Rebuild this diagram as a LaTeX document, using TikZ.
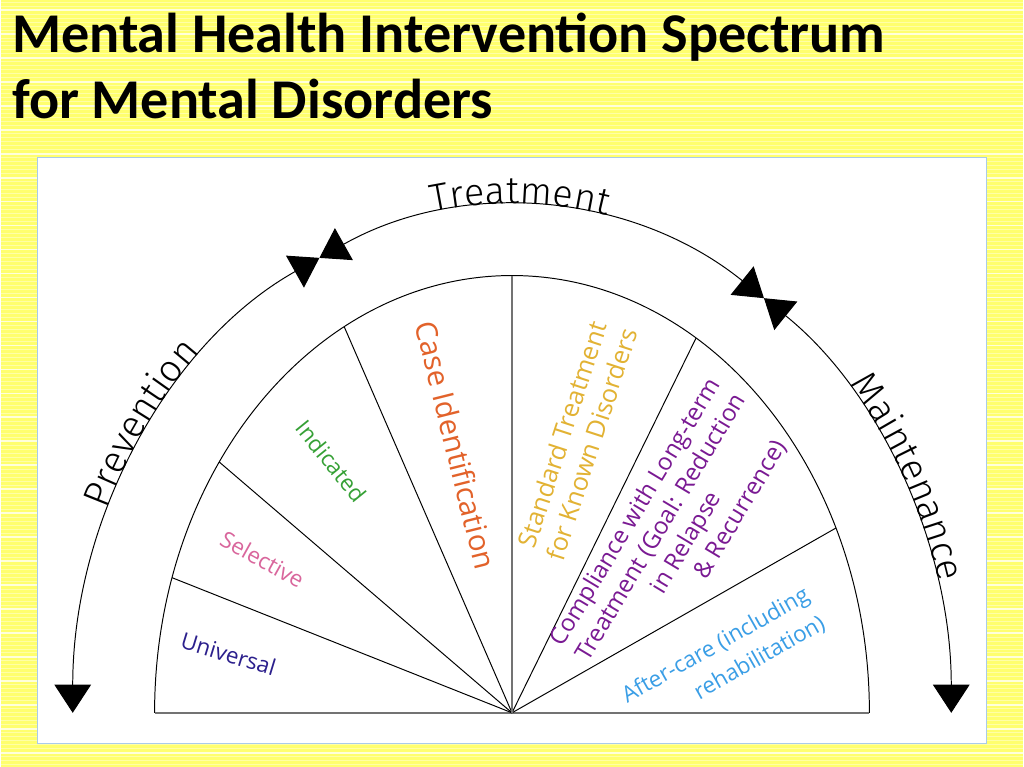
\documentclass[tikz,border=0pt]{standalone}
\usepackage{fontspec}
\setmainfont{Open Sans}
\newfontfamily\titlefont{Carlito}
\newfontfamily\arcfont{Fira Sans}[UprightFont=* Light]
\usetikzlibrary{arrows.meta,decorations.text}

\definecolor{bgyellow}{HTML}{FFFF6E}
\definecolor{bgline}{HTML}{FFFFA6}
\definecolor{panelblue}{HTML}{A9CBEA}
\definecolor{univcol}{HTML}{2B1F8C}
\definecolor{selcol}{HTML}{D9669C}
\definecolor{indcol}{HTML}{35A035}
\definecolor{casecol}{HTML}{E2622A}
\definecolor{stdcol}{HTML}{E2B233}
\definecolor{compcol}{HTML}{7A1A93}
\definecolor{aftercol}{HTML}{3A9EE6}

\tikzset{
  spoke/.style={draw=black, line width=0.7pt},
  baseline/.style={draw=gray!90!black, line width=1.4pt},
  phase/.style={draw=black, line width=0.7pt, <->},
  >={Triangle[length=20pt,width=26pt]},
  stage/.style={inner sep=0pt, align=center},
  panel/.style={fill=white, draw=panelblue, line width=1pt},
  title/.style={anchor=north west, inner sep=0pt, align=left,
    font=\titlefont\bfseries\fontsize{40}{47}\selectfont}}

\newcommand{\arcstyle}{\arcfont\fontsize{27}{27}\selectfont}

\begin{document}
\begin{tikzpicture}[x=0.025cm,y=0.025cm]
  % background
  \fill[bgyellow] (-512,-54) rectangle (512,714);
  \foreach \yy in {-52,-48,...,712}
    \draw[bgline, line width=0.6pt] (-512,\yy) -- (512,\yy);
  \foreach \yy in {-40,-16,...,712}
    \draw[white!75!bgyellow, line width=1.2pt] (-512,\yy) -- (512,\yy);
  \useasboundingbox (-512,-54) rectangle (512,714);

  \node[title] (title) at (-501,701) {Mental Health Intervention Spectrum\\for Mental Disorders};

  \draw[panel] (-475,-31) rectangle (475,556);

  % fan
  \coordinate (O) at (0,0);
  \coordinate (L) at (180:358 and 438);
  \coordinate (R) at (0:358 and 438);
  \foreach \n/\t in {1/162,2/145,3/118,4/90,5/59,6/25}
    \coordinate (s\n) at (\t:358 and 438);

  \draw[spoke] (L) arc[start angle=180, end angle=0, x radius=358, y radius=438];
  \draw[baseline] (L) -- (R);
  \foreach \n in {1,2,3,5,6}
    \draw[spoke] (O) -- (s\n);
  \draw[baseline, line width=1pt] (O) -- (s4);

  % outer phases
  \coordinate (pl) at (180:440 and 507);
  \coordinate (bl) at (116:440 and 507);
  \coordinate (br) at (55:440 and 507);
  \coordinate (pr) at (0:440 and 507);
  \draw[phase] (bl) arc[start angle=116, end angle=180, x radius=440, y radius=507];
  \draw[phase] (br) arc[start angle=55, end angle=116, x radius=440, y radius=507];
  \draw[phase] (pr) arc[start angle=0, end angle=55, x radius=440, y radius=507];

  \path[decorate, decoration={text along path, text align=center, raise=2pt,
      text={|\arcstyle|Prevention}}]
    (172:440 and 507) arc[start angle=172, end angle=118, x radius=440, y radius=507];
  \path[decorate, decoration={text along path, text align=center, raise=2pt,
      text={|\arcstyle|Treatment}}]
    (114:440 and 507) arc[start angle=114, end angle=64, x radius=440, y radius=507];
  \path[decorate, decoration={text along path, text align=center, raise=2pt,
      text={|\arcstyle|Maintenance}}]
    (53:440 and 507) arc[start angle=53, end angle=3, x radius=440, y radius=507];

  % stages
  \node[stage, text=univcol, rotate=-17, font=\fontsize{16}{20}\selectfont] (univ) at (-284,59) {Universal};
  \node[stage, text=selcol, rotate=-29, font=\fontsize{16}{20}\selectfont] (sel) at (-250,154) {Selective};
  \node[stage, text=indcol, rotate=-51, font=\fontsize{16}{20}\selectfont] (ind) at (-181,252) {Indicated};
  \node[stage, text=casecol, rotate=-76, font=\fontsize{21}{24}\selectfont] (case) at (-56,268) {Case Identification};
  \node[stage, text=stdcol, rotate=72, font=\fontsize{18}{22}\selectfont] (std) at (65,274)
    {Standard Treatment\\for Known Disorders};
  \node[stage, text=compcol, rotate=59, font=\fontsize{17}{21}\selectfont] (comp) at (162,178)
    {Compliance with Long-term\\Treatment (Goal: Reduction\\in Relapse\\\hspace*{80pt}\& Recurrence)};
  \node[stage, align=right, text=aftercol, rotate=29.5, font=\fontsize{16}{23}\selectfont] (after) at (212,53)
    {After-care (including\\rehabilitation)};
\end{tikzpicture}
\end{document}
